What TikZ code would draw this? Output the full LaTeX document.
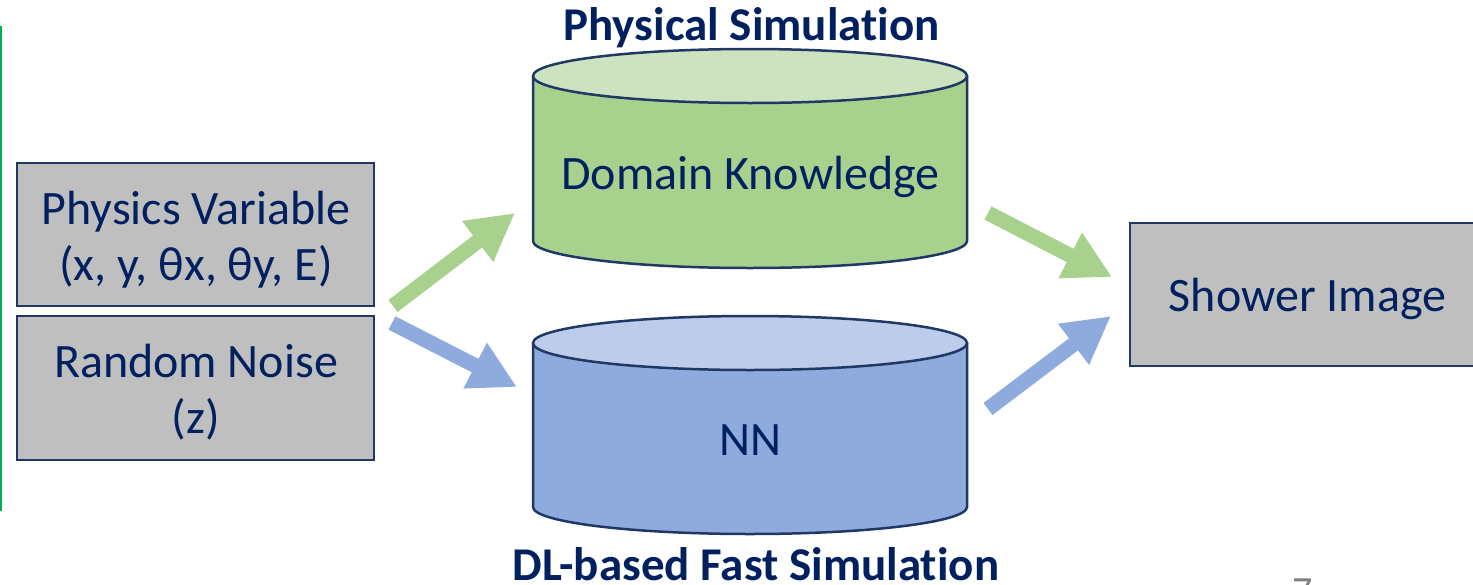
\documentclass[tikz,border=0pt]{standalone}
\usepackage{fontspec}
\setmainfont[Ligatures=NoCommon]{Carlito}
\usetikzlibrary{arrows.meta}
\definecolor{navy}{HTML}{002060}
\definecolor{edge}{HTML}{1F3864}
\definecolor{boxgray}{HTML}{BFBFBF}
\definecolor{gbody}{HTML}{A9D18E}
\definecolor{gtop}{HTML}{CDE2BF}
\definecolor{bbody}{HTML}{8FAADC}
\definecolor{btop}{HTML}{BDCCEA}
\definecolor{sidegreen}{HTML}{00B050}
\tikzset{
  txt/.style={text=navy, font=\fontsize{48}{56}\selectfont, align=center, inner sep=0pt},
  ttl/.style={text=navy, font=\fontsize{47}{50}\selectfont\bfseries, inner sep=0pt},
  graybox/.style={draw=edge, line width=2.5pt, fill=boxgray, inner sep=0pt},
  cyledge/.style={draw=edge, line width=2.5pt},
  fatarrow/.style={line width=15pt, -{Triangle[length=47pt,width=48pt]}},
}
\begin{document}
\begin{tikzpicture}[x=1pt,y=-1pt]
\useasboundingbox (0,0) rectangle (1473,584);
% side line
\draw[sidegreen, line width=2pt] (1,26) -- (1,511);
% input boxes
\node[graybox, minimum width=357pt, minimum height=143pt] (phys) at (195.5,234.5) {};
\node[txt] (physt) at (196,239.5) {Physics Variable\\(x, y, θx, θy, E)};
\node[graybox, minimum width=357pt, minimum height=144pt] (noise) at (195.5,388) {};
\node[txt] (noiset) at (196,392.5) {Random Noise\\(z)};
% output box
\node[graybox, minimum width=356pt, minimum height=143pt] (shower) at (1308,294.5) {};
\node[txt, anchor=base] (showert) at (1307.5,311) {Shower Image};
% green cylinder
\fill[gbody] (533,76) -- (533,241) arc[start angle=180,end angle=360,x radius=217pt,y radius=27pt] -- (967,76) -- cycle;
\draw[cyledge] (533,76) -- (533,241) arc[start angle=180,end angle=360,x radius=217pt,y radius=27pt] -- (967,76);
\filldraw[cyledge, fill=gtop] (750,76) ellipse[x radius=217pt, y radius=27pt];
\node[txt, anchor=base] (dk) at (750.5,189) {Domain Knowledge};
\node[ttl, anchor=base] (pst) at (751.5,40) {Physical Simulation};
% blue cylinder
\fill[bbody] (533,343) -- (533,507) arc[start angle=180,end angle=360,x radius=217pt,y radius=27pt] -- (967,343) -- cycle;
\draw[cyledge] (533,343) -- (533,507) arc[start angle=180,end angle=360,x radius=217pt,y radius=27pt] -- (967,343);
\filldraw[cyledge, fill=btop] (750,343) ellipse[x radius=217pt, y radius=27pt];
\node[txt, anchor=base] (nn) at (750,455) {NN};
\node[ttl, anchor=base] (dlt) at (756,580) {DL-based Fast Simulation};
% arrows
\coordinate (g1a) at (393,306); \coordinate (g1b) at (515,213);
\coordinate (b1a) at (392,323); \coordinate (b1b) at (517,387);
\coordinate (g2a) at (988,213); \coordinate (g2b) at (1112,277);
\coordinate (b2a) at (988,409); \coordinate (b2b) at (1111,316);
\draw[fatarrow, gbody] (g1a) -- (g1b);
\draw[fatarrow, bbody] (b1a) -- (b1b);
\draw[fatarrow, gbody] (g2a) -- (g2b);
\draw[fatarrow, bbody] (b2a) -- (b2b);
% page number (cut off)
\node[anchor=base, text=gray, font=\fontsize{40}{48}\selectfont] (pg) at (1303,604) {7};
\end{tikzpicture}
\end{document}
